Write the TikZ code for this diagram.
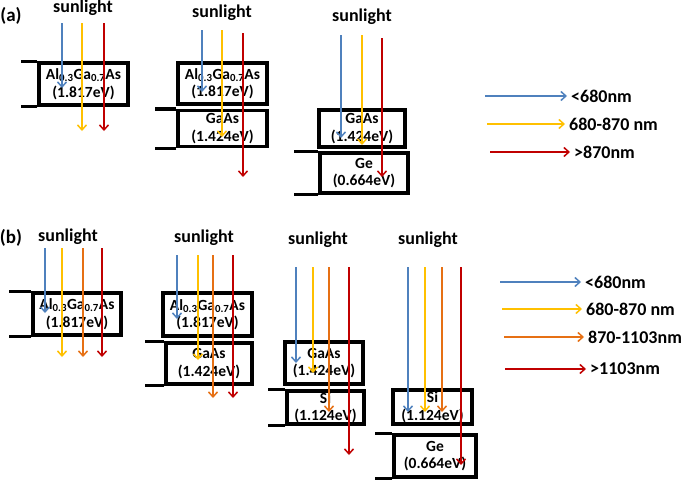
\documentclass[tikz,border=0pt]{standalone}
\usepackage{fontspec}
\setmainfont{Carlito}
\usepackage{tikz}
\usetikzlibrary{arrows.meta}

\definecolor{rayblue}{RGB}{79,129,189}
\definecolor{rayyellow}{RGB}{255,192,0}
\definecolor{rayorange}{RGB}{230,112,20}
\definecolor{rayred}{RGB}{192,0,0}

\tikzset{
  cell/.style={shape=rectangle, draw=black, line width=3.2pt, inner sep=0pt,
    align=center, font=\bfseries\fontsize{15.5}{17.5}\selectfont},
  wall/.style={draw=black, line width=3.2pt},
  ray/.style={draw=#1, line width=1.5pt,
    -{Straight Barb[length=5pt,width=9pt]}},
  sun/.style={font=\bfseries\fontsize{18}{21}\selectfont},
  tag/.style={font=\bfseries\fontsize{19}{22}\selectfont},
  legtext/.style={anchor=west, inner sep=4pt, font=\bfseries\fontsize{18}{21}\selectfont}
}

% one coloured ray: name, x, top, bottom, colour
\newcommand{\ray}[5]{%
  \coordinate (#1s) at (#2,#3);
  \coordinate (#1e) at (#2,#4);
  \draw[ray=#5] (#1s) -- (#1e);}

\begin{document}
\begin{tikzpicture}[x=1pt, y=-1pt]
        \useasboundingbox (0,0) rectangle (685,479);

        \node[tag] (taga) at (11,16) {(a)};
        \node[tag] (tagb) at (11,238) {(b)};

        %sunlight labels
        \node[sun] (suna1) at (83,8)    {sunlight};
        \node[sun] (suna2) at (222,13)  {sunlight};
        \node[sun] (suna3) at (362,17)  {sunlight};
        \node[sun] (sunb1) at (68,237)  {sunlight};
        \node[sun] (sunb2) at (204,238) {sunlight};
        \node[sun] (sunb3) at (318,240) {sunlight};
        \node[sun] (sunb4) at (428,240) {sunlight};

        %cells of (a)
        \node[cell, minimum width=89, minimum height=42] (a1) at (83.5,84)
            {Al\textsubscript{0.3}Ga\textsubscript{0.7}As\\(1.817eV)};
        \draw[wall] (a1.north west) -- ++(-16,0);
        \draw[wall] (a1.south west) -- ++(-16,0);

        \node[cell, minimum width=89, minimum height=41] (a2top) at (222.5,83.5)
            {Al\textsubscript{0.3}Ga\textsubscript{0.7}As\\(1.817eV)};
        \node[cell, minimum width=89, minimum height=36] (a2bot) at (222.5,128.5)
            {GaAs\\(1.424eV)};
        \draw[wall] (a2bot.north west) -- ++(-21,0);
        \draw[wall] (a2bot.south west) -- ++(-21,0);

        \node[cell, minimum width=86, minimum height=37] (a3top) at (362,128.5)
            {GaAs\\(1.424eV)};
        \node[cell, minimum width=88, minimum height=40] (a3bot) at (364,173)
            {Ge\\(0.664eV)};
        \draw[wall] (a3bot.north west) -- ++(-24,0);
        \draw[wall] (a3bot.south west) -- ++(-24,0);

        %cells of (b)
        \node[cell, minimum width=88, minimum height=42] (b1) at (77,314)
            {Al\textsubscript{0.3}Ga\textsubscript{0.7}As\\(1.817eV)};
        \draw[wall] (b1.north west) -- ++(-22,0);
        \draw[wall] (b1.south west) -- ++(-22,0);

        \node[cell, minimum width=89, minimum height=43] (b2top) at (207.5,314.5)
            {Al\textsubscript{0.3}Ga\textsubscript{0.7}As\\(1.817eV)};
        \node[cell, minimum width=86, minimum height=41] (b2bot) at (209,363.5)
            {GaAs\\(1.424eV)};
        \draw[wall] (b2bot.north west) -- ++(-19,0);
        \draw[wall] (b2bot.south west) -- ++(-19,0);

        \node[cell, minimum width=78, minimum height=42] (b3top) at (324,363)
            {GaAs\\(1.424eV)};
        \node[cell, minimum width=77, minimum height=33] (b3bot) at (325.5,407.5)
            {Si\\(1.124eV)};
        \draw[wall] (b3bot.north west) -- ++(-17,0);
        \draw[wall] (b3bot.south west) -- ++(-17,0);

        \node[cell, minimum width=79, minimum height=34] (b4top) at (432.5,407)
            {Si\\(1.124eV)};
        \node[cell, minimum width=82, minimum height=42] (b4bot) at (435,456)
            {Ge\\(0.664eV)};
        \draw[wall] (b4bot.north west) -- ++(-17,0);
        \draw[wall] (b4bot.south west) -- ++(-17,0);

        %rays of (a)
        \ray{a1b}{62}{23}{88}{rayblue}
        \ray{a1y}{82}{23}{131}{rayyellow}
        \ray{a1r}{104}{23}{131}{rayred}

        \ray{a2b}{202}{30}{92}{rayblue}
        \ray{a2y}{222}{30}{137}{rayyellow}
        \ray{a2r}{243}{33}{177}{rayred}

        \ray{a3b}{341}{35}{138}{rayblue}
        \ray{a3y}{362}{35}{145}{rayyellow}
        \ray{a3r}{382}{38}{177}{rayred}

        %rays of (b)
        \ray{b1b}{45}{248}{313}{rayblue}
        \ray{b1y}{62}{248}{357}{rayyellow}
        \ray{b1o}{83}{248}{357}{rayorange}
        \ray{b1r}{102}{248}{357}{rayred}

        \ray{b2b}{177}{255}{319}{rayblue}
        \ray{b2y}{198}{255}{360}{rayyellow}
        \ray{b2o}{213}{255}{398}{rayorange}
        \ray{b2r}{233}{255}{398}{rayred}

        \ray{b3b}{296}{267}{363}{rayblue}
        \ray{b3y}{313}{267}{373}{rayyellow}
        \ray{b3o}{329}{267}{412}{rayorange}
        \ray{b3r}{349}{267}{455}{rayred}

        \ray{b4b}{408}{267}{412}{rayblue}
        \ray{b4y}{425}{267}{412}{rayyellow}
        \ray{b4o}{442}{267}{412}{rayorange}
        \ray{b4r}{461}{267}{465}{rayred}

        %legend of (a)
        \node[legtext] (la1) at (567,96)  {<680nm};
        \node[legtext] (la2) at (565,124) {680-870 nm};
        \node[legtext] (la3) at (570,152) {>870nm};
        \coordinate (la1s) at (485,96);
        \coordinate (la2s) at (487,124);
        \coordinate (la3s) at (490,152);
        \draw[ray=rayblue] (la1s) -- (la1.west);
        \draw[ray=rayyellow] (la2s) -- (la2.west);
        \draw[ray=rayred] (la3s) -- (la3.west);

        %legend of (b)
        \node[legtext] (lb1) at (581,282) {<680nm};
        \node[legtext] (lb2) at (582,309) {680-870 nm};
        \node[legtext] (lb3) at (584,337) {870-1103nm};
        \node[legtext] (lb4) at (586,369) {>1103nm};
        \coordinate (lb1s) at (500,282);
        \coordinate (lb2s) at (502,309);
        \coordinate (lb3s) at (504,337);
        \coordinate (lb4s) at (505,369);
        \draw[ray=rayblue] (lb1s) -- (lb1.west);
        \draw[ray=rayyellow] (lb2s) -- (lb2.west);
        \draw[ray=rayorange] (lb3s) -- (lb3.west);
        \draw[ray=rayred] (lb4s) -- (lb4.west);

\end{tikzpicture}
\end{document}
